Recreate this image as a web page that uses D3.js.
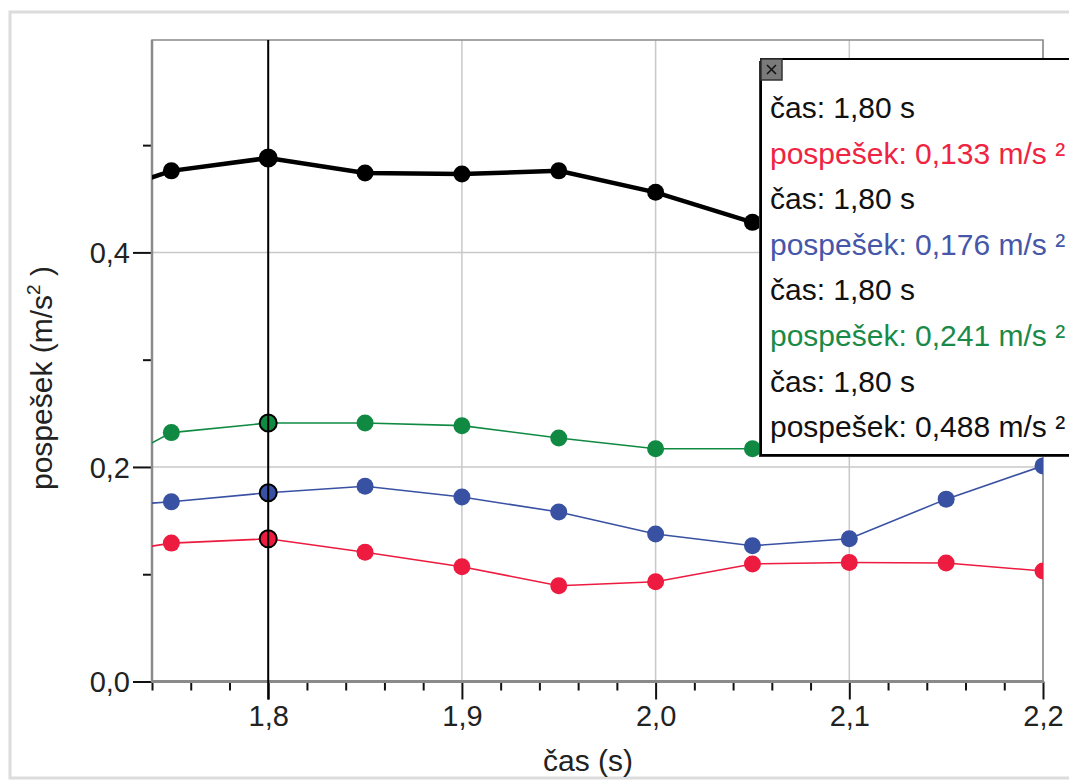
<!DOCTYPE html>
<html>
<head>
<meta charset="utf-8">
<script src="https://cdn.jsdelivr.net/npm/d3@7"></script>
<style>
  body { margin: 0; background: #fff; }
  text { font-family: "Liberation Sans", Arial, sans-serif; }
</style>
</head>
<body>
<div id="graf"></div>
<script>
// čas (s) – meritve, 1,70 je izven vidnega območja (samo za začetek črte)
var cas = [1.70, 1.75, 1.80, 1.85, 1.90, 1.95, 2.00, 2.05, 2.10, 2.15, 2.20];
// pospešek (m/s²) za štiri meritve
var rdeca  = [0.115, 0.129, 0.133, 0.1205, 0.107, 0.0893, 0.093, 0.1096, 0.111, 0.1105, 0.103];
var modra  = [0.161, 0.1676, 0.176, 0.182, 0.172, 0.158, 0.1375, 0.1266, 0.133, 0.170, 0.201];
var zelena = [0.184, 0.232, 0.241, 0.241, 0.2385, 0.227, 0.217, 0.217, 0.222, 0.228, 0.232];
var crna   = [0.446, 0.476, 0.488, 0.474, 0.473, 0.476, 0.456, 0.428, 0.41, 0.40, 0.39];

var xGlavne = [1.8, 1.9, 2.0, 2.1, 2.2];
var xPomozne = [1.74, 1.76, 1.78, 1.82, 1.84, 1.86, 1.88, 1.92, 1.94, 1.96, 1.98,
                2.02, 2.04, 2.06, 2.08, 2.12, 2.14, 2.16, 2.18];
var yGlavne = [0.0, 0.2, 0.4];
var yPomozne = [0.1, 0.3, 0.5];

var kazalec = 1.80; // izbrana točka
var oznake = [
  {t: "čas: 1,80 s", c: "#111"},
  {t: "pospešek: 0,133 m/s ²", c: "#ee2442"},
  {t: "čas: 1,80 s", c: "#111"},
  {t: "pospešek: 0,176 m/s ²", c: "#4656a8"},
  {t: "čas: 1,80 s", c: "#111"},
  {t: "pospešek: 0,241 m/s ²", c: "#1a8a48"},
  {t: "čas: 1,80 s", c: "#111"},
  {t: "pospešek: 0,488 m/s ²", c: "#111"}
];

var W = 1069, H = 781;
var L = 152, R = 1043, T = 40, B = 681.5;

var svg = d3.select("#graf").append("svg").attr("width", W).attr("height", H);

// zunanji okvir
svg.append("rect").attr("x", 10).attr("y", 12).attr("width", 1080).attr("height", 766)
  .attr("fill", "none").attr("stroke", "#dcdcdc").attr("stroke-width", 3);

var x = d3.scaleLinear().domain([1.74, 2.2]).range([L, R]);
var y = d3.scaleLinear().domain([0, 0.598]).range([B, T]);

// mreža
var g = svg.append("g");
g.selectAll(".gx").data(xGlavne).enter().append("line")
  .attr("x1", function (d) { return x(d); }).attr("x2", function (d) { return x(d); })
  .attr("y1", T).attr("y2", B)
  .attr("stroke", "#c8c8c8").attr("stroke-width", 1.5);
g.selectAll(".gy").data(yGlavne.slice(1)).enter().append("line")
  .attr("x1", L).attr("x2", R)
  .attr("y1", function (d) { return y(d); }).attr("y2", function (d) { return y(d); })
  .attr("stroke", "#c8c8c8").attr("stroke-width", 1.5);

// osi
var fmt = function (d) { return d3.format(".1f")(d).replace(".", ","); };

var xos = svg.append("g").attr("transform", "translate(0," + B + ")")
  .call(d3.axisBottom(x).tickValues(xGlavne).tickSize(18).tickPadding(6).tickFormat(fmt));
svg.append("g").attr("transform", "translate(0," + B + ")")
  .call(d3.axisBottom(x).tickValues(xPomozne).tickSize(9).tickFormat(""));
var yos = svg.append("g").attr("transform", "translate(" + L + ",0)")
  .call(d3.axisLeft(y).tickValues(yGlavne).tickSize(19).tickPadding(3).tickFormat(fmt));
svg.append("g").attr("transform", "translate(" + L + ",0)")
  .call(d3.axisLeft(y).tickValues(yPomozne).tickSize(9).tickFormat(""));

svg.selectAll(".domain").remove();
svg.selectAll(".tick line").attr("stroke", "#111").attr("stroke-width", 2);
svg.selectAll(".tick text").attr("font-size", 29).attr("fill", "#222")
  .style("font-family", "'Liberation Sans', Arial, sans-serif");
yos.selectAll(".tick text").attr("dy", "0.36em");

// okvir risalnega območja
svg.append("rect").attr("x", L).attr("y", T).attr("width", R - L).attr("height", B - T)
  .attr("fill", "none").attr("stroke", "#8a8a8a").attr("stroke-width", 1.5);
svg.append("line").attr("x1", L).attr("x2", L).attr("y1", T).attr("y2", B + 1)
  .attr("stroke", "#8a8a8a").attr("stroke-width", 2.5);
svg.append("line").attr("x1", L).attr("x2", R + 1).attr("y1", B).attr("y2", B)
  .attr("stroke", "#8a8a8a").attr("stroke-width", 3);

// naslova osi
svg.append("text").attr("x", 588).attr("y", 771).attr("text-anchor", "middle")
  .attr("font-size", 30).attr("fill", "#222").text("čas (s)");
var yt = svg.append("text").attr("transform", "translate(52,490) rotate(-90)")
  .attr("font-size", 30).attr("fill", "#222");
yt.append("tspan").text("pospešek (m/s");
yt.append("tspan").attr("font-size", 19).attr("dy", -12).text("2");
yt.append("tspan").attr("dy", 12).text(" )");

// serije
svg.append("clipPath").attr("id", "izrez").append("rect")
  .attr("x", L).attr("y", T).attr("width", R - L).attr("height", B - T);
var risba = svg.append("g").attr("clip-path", "url(#izrez)");

var serije = [
  {v: rdeca, c: "#ec1b3f", w: 1.6, r: 8.5},
  {v: modra, c: "#3951a3", w: 1.6, r: 8.5},
  {v: zelena, c: "#108a43", w: 1.6, r: 8.5},
  {v: crna, c: "#000", w: 4.5, r: 8.5}
];
var crta = d3.line().x(function (d) { return x(d[0]); }).y(function (d) { return y(d[1]); });

serije.forEach(function (s) {
  var tocke = cas.map(function (t, i) { return [t, s.v[i]]; });
  risba.append("path").datum(tocke).attr("d", crta)
    .attr("fill", "none").attr("stroke", s.c).attr("stroke-width", s.w);
  risba.selectAll(null).data(tocke).enter().append("circle")
    .attr("cx", function (d) { return x(d[0]); })
    .attr("cy", function (d) { return y(d[1]); })
    .attr("r", s.r).attr("fill", s.c)
    .attr("stroke", function (d) { return Math.abs(d[0] - kazalec) < 1e-9 ? "#000" : "none"; })
    .attr("stroke-width", 2);
});

// navpični kazalec pri 1,80 s
svg.append("line").attr("x1", x(kazalec)).attr("x2", x(kazalec))
  .attr("y1", T).attr("y2", B + 18)
  .attr("stroke", "#000").attr("stroke-width", 2);

// okno z vrednostmi
var ok = svg.append("g").attr("transform", "translate(761,59)");
ok.append("rect").attr("x", -2).attr("y", 2).attr("width", 330).attr("height", 396)
  .attr("fill", "#333");
ok.append("rect").attr("x", 0).attr("y", 0).attr("width", 330).attr("height", 396)
  .attr("fill", "#fff").attr("stroke", "#000").attr("stroke-width", 2);
ok.append("rect").attr("x", 0).attr("y", 0).attr("width", 21).attr("height", 21)
  .attr("fill", "#7a7a7a").attr("stroke", "#333").attr("stroke-width", 1.5);
ok.append("path").attr("d", "M6,6L15,15M15,6L6,15").attr("stroke", "#111").attr("stroke-width", 1.5);
ok.selectAll(".vr").data(oznake).enter().append("text")
  .attr("x", 9)
  .attr("y", function (d, i) { return 59 + i * 45.6; })
  .attr("font-size", 30)
  .attr("fill", function (d) { return d.c; })
  .text(function (d) { return d.t; });
</script>
</body>
</html>
